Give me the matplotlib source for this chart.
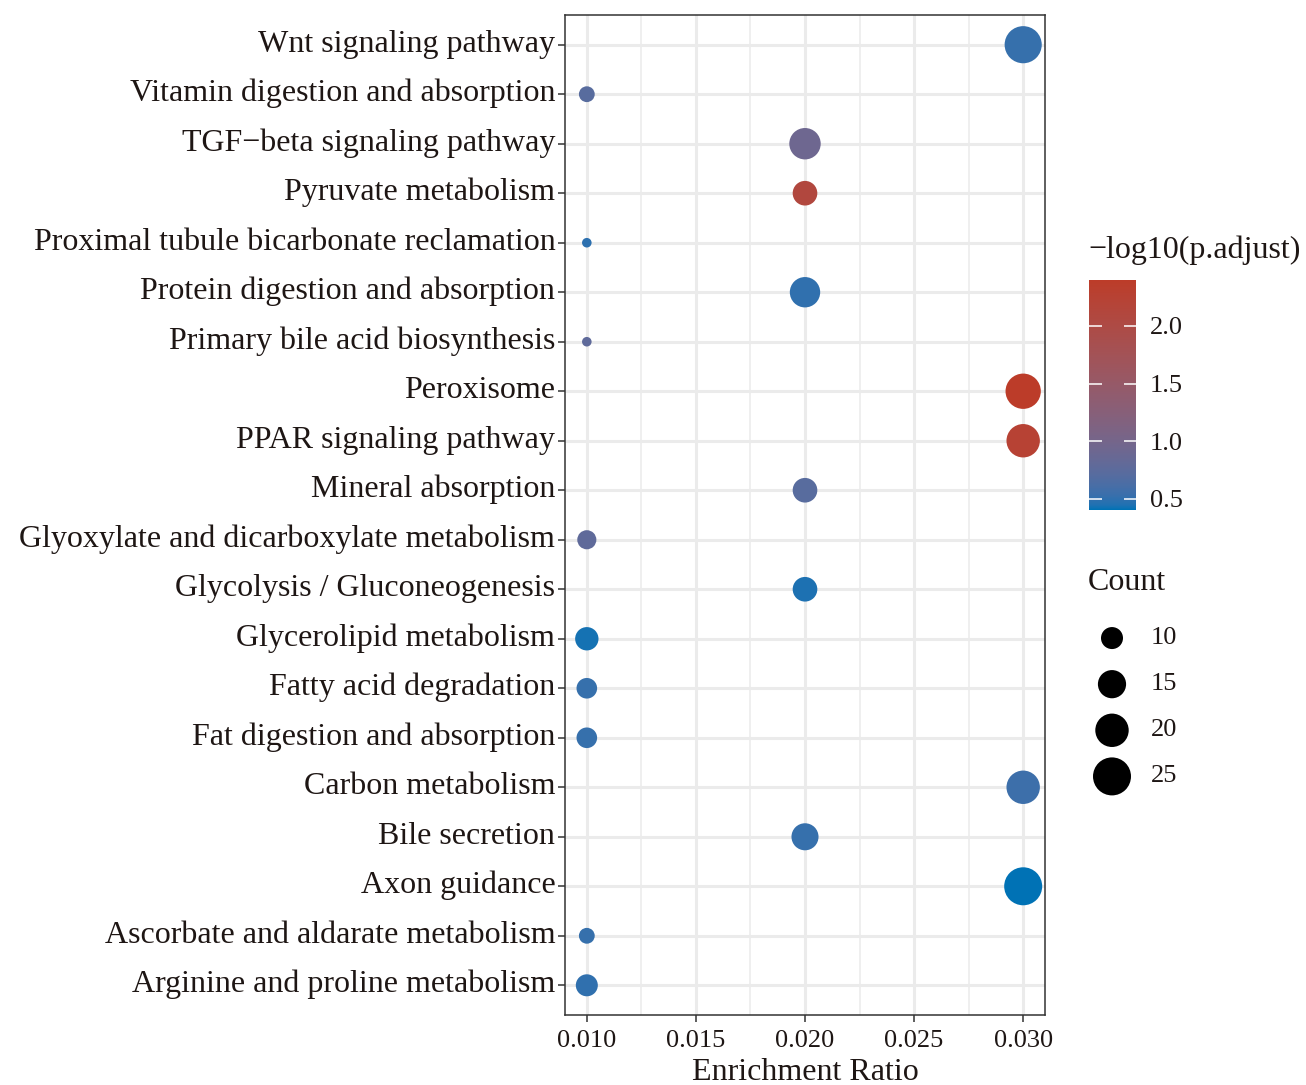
import matplotlib.pyplot as plt
import matplotlib as mpl
import matplotlib.colors as mcolors
import matplotlib.transforms as mtransforms
import numpy as np

plt.rcParams['font.family'] = ['Liberation Serif', 'DejaVu Serif']

# KEGG terms, bottom to top
pathways = ["Arginine and proline metabolism", "Ascorbate and aldarate metabolism", "Axon guidance",
            "Bile secretion", "Carbon metabolism", "Fat digestion and absorption",
            "Fatty acid degradation", "Glycerolipid metabolism", "Glycolysis / Gluconeogenesis",
            "Glyoxylate and dicarboxylate metabolism", "Mineral absorption", "PPAR signaling pathway",
            "Peroxisome", "Primary bile acid biosynthesis", "Protein digestion and absorption",
            "Proximal tubule bicarbonate reclamation", "Pyruvate metabolism",
            "TGF\u2212beta signaling pathway", "Vitamin digestion and absorption", "Wnt signaling pathway"]
enrichment = [0.010, 0.010, 0.030, 0.020, 0.030, 0.010, 0.010, 0.010, 0.020, 0.010,
              0.020, 0.030, 0.030, 0.010, 0.020, 0.010, 0.020, 0.020, 0.010, 0.030]
counts = [10, 6, 25, 14, 20, 9, 9, 11, 12, 8, 12, 20, 22, 3, 17, 3, 12, 18, 6, 24]
neglog_padj = [0.50, 0.52, 0.40, 0.52, 0.55, 0.52, 0.52, 0.43, 0.44, 0.78,
               0.72, 2.25, 2.40, 0.78, 0.50, 0.48, 2.10, 0.92, 0.72, 0.52]
legend_counts = [10, 15, 20, 25]
cbar_ticks = [0.5, 1.0, 1.5, 2.0]

DPI = 100
TXT = "#1e1614"
M = np.array([[0.4124, 0.3576, 0.1805], [0.2126, 0.7152, 0.0722], [0.0193, 0.1192, 0.9505]])
WHITE = np.array([0.95047, 1.0, 1.08883])


def to_lab(col):
    c = np.array(mcolors.to_rgb(col))
    c = np.where(c > 0.04045, ((c + 0.055) / 1.055) ** 2.4, c / 12.92)
    xyz = M @ c / WHITE
    f = np.where(xyz > 0.008856, np.cbrt(xyz), 7.787 * xyz + 16 / 116)
    return np.array([116 * f[1] - 16, 500 * (f[0] - f[1]), 200 * (f[1] - f[2])])


def from_lab(lab):
    fy = (lab[0] + 16) / 116
    f = np.array([fy + lab[1] / 500, fy, fy - lab[2] / 200])
    xyz = np.where(f ** 3 > 0.008856, f ** 3, (f - 16 / 116) / 7.787) * WHITE
    c = np.linalg.inv(M) @ xyz
    c = np.where(c > 0.0031308, 1.055 * np.abs(c) ** (1 / 2.4) - 0.055, 12.92 * c)
    return np.clip(c, 0, 1)


# ggplot-style gradient (interpolated in Lab space)
lo, hi = to_lab("#0072B5"), to_lab("#BC3C29")
cmap = mcolors.ListedColormap([from_lab(lo + (hi - lo) * t) for t in np.linspace(0, 1, 256)])
norm = mcolors.Normalize(vmin=min(neglog_padj), vmax=max(neglog_padj))


def point_size(c):
    # diameter in px -> marker area in pt^2
    d_px = 8.7 * np.sqrt(np.asarray(c, dtype=float)) - 5.5
    return (d_px * 72 / DPI) ** 2


fig = plt.figure(figsize=(13.06, 10.85), dpi=DPI)
ax = fig.add_axes([565 / 1306, 1 - 1015 / 1085, 480 / 1306, 1000 / 1085])

y = np.arange(len(pathways))
ax.scatter(enrichment, y, s=point_size(counts), c=neglog_padj, cmap=cmap, norm=norm,
           linewidths=0, zorder=3)

ax.set_xlim(0.009, 0.031)
ax.set_ylim(-0.6, len(pathways) - 0.4)
ax.set_xticks([0.010, 0.015, 0.020, 0.025, 0.030])
ax.set_xticks([0.0125, 0.0175, 0.0225, 0.0275], minor=True)
ax.set_xticklabels(["0.010", "0.015", "0.020", "0.025", "0.030"])
ax.set_yticks(y)
ax.set_yticklabels(pathways, fontsize=23, color=TXT)
ax.tick_params(axis="x", which="major", labelsize=19, labelcolor=TXT, length=5,
               width=1.1, color="#333333", pad=6)
ax.tick_params(axis="x", which="minor", length=0)
ax.tick_params(axis="y", length=5, width=1.1, color="#333333", pad=2)
# nudge y labels up a little, like ggplot's text placement
shift = mtransforms.ScaledTranslation(0, 3 / 72, fig.dpi_scale_trans)
for lbl in ax.get_yticklabels():
    lbl.set_transform(lbl.get_transform() + shift)
ax.grid(which="major", color="#EBEBEB", linewidth=2.2, zorder=0)
ax.grid(which="minor", axis="x", color="#EBEBEB", linewidth=1.1, zorder=0)
ax.set_axisbelow(True)
for sp in ax.spines.values():
    sp.set_color("#333333")
    sp.set_linewidth(1.1)
ax.set_xlabel("Enrichment Ratio", fontsize=23, labelpad=4, color=TXT)

# colour bar
cax = fig.add_axes([1089 / 1306, 1 - 510 / 1085, 47 / 1306, 230 / 1085])
cb = fig.colorbar(mpl.cm.ScalarMappable(norm=norm, cmap=cmap), cax=cax)
cb.outline.set_visible(False)
cb.set_ticks(cbar_ticks)
cb.set_ticklabels(["0.5", "1.0", "1.5", "2.0"])
cax.tick_params(left=True, right=True, labelleft=False, labelright=True, direction="in",
                length=9, width=1.1, color="white", labelsize=19, labelcolor=TXT, pad=10)
fig.text(1088 / 1306, 1 - 250 / 1085, "\u2212log10(p.adjust)", fontsize=23, va="center",
         ha="left", color=TXT)

# size legend
fig.text(1088 / 1306, 1 - 583 / 1085, "Count", fontsize=23, va="center", ha="left", color=TXT)
lax = fig.add_axes([1090 / 1306, 1 - 805 / 1085, 44 / 1306, 190 / 1085])
ly = np.arange(len(legend_counts))[::-1]
lax.scatter([0] * len(legend_counts), ly, s=point_size(legend_counts), color="black", linewidths=0)
lax.set_xlim(-1, 1)
lax.set_ylim(-0.62, 3.5)
lax.axis("off")
for yy, c in zip(ly, legend_counts):
    lax.text(1.75, yy, str(c), fontsize=19, va="center", ha="left", color=TXT)

fig.savefig("out.png", dpi=DPI)
